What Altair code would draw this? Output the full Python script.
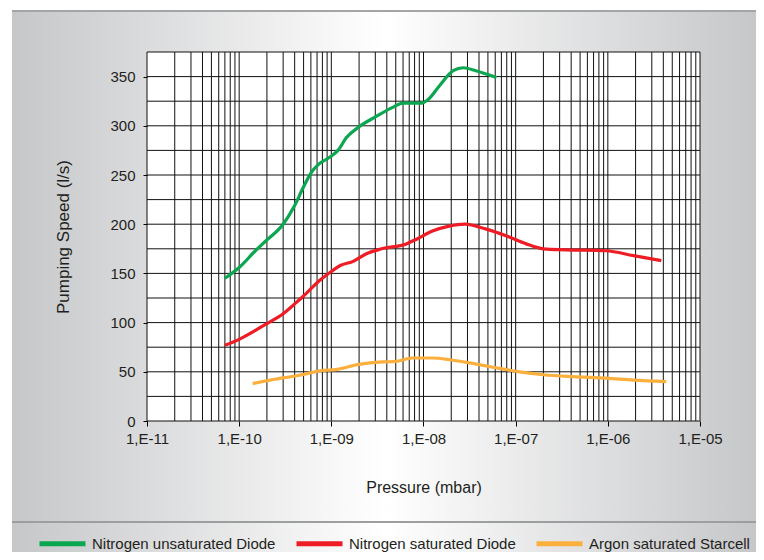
import altair as alt
import pandas as pd

# ---------------- data ----------------
series_names = ["Nitrogen unsaturated Diode", "Nitrogen saturated Diode", "Argon saturated Starcell"]
line_colors = ["#0aa650", "#ee1c25", "#fbb03e"]

green_p = [7e-11, 1e-10, 1.5e-10, 2e-10, 3e-10, 4e-10, 5e-10, 6e-10, 7.3e-10, 9.6e-10,
           1.18e-9, 1.46e-9, 2e-9, 3e-9, 4.7e-9, 6e-9, 9.5e-9, 1.1e-8, 1.5e-8, 2.1e-8,
           2.7e-8, 3.7e-8, 6.2e-8]
green_v = [145, 156, 173, 184, 200, 219, 238, 252, 261, 268,
           275, 288, 299, 309, 319, 323, 323, 326, 341, 356,
           359, 356, 349]

red_p = [7e-11, 1e-10, 1.5e-10, 2e-10, 3e-10, 4e-10, 5e-10, 7.5e-10, 1e-9, 1.25e-9,
         1.7e-9, 2.4e-9, 3.5e-9, 6.5e-9, 8.5e-9, 1.25e-8, 1.9e-8, 2.8e-8, 4.8e-8, 8e-8,
         1.3e-7, 2e-7, 3.5e-7, 9.6e-7, 1.9e-6, 3.8e-6]
red_v = [77, 83, 92, 99, 109, 119, 127, 143, 152, 158,
         162, 170, 175, 180, 185, 193, 198, 200, 195, 188,
         180, 175, 174, 173, 168, 163]

orange_p = [1.4e-10, 2.3e-10, 4.5e-10, 7.5e-10, 1.15e-9, 2e-9, 3.6e-9, 5e-9, 7.5e-9, 1.25e-8,
            2e-8, 3.4e-8, 6.7e-8, 1.1e-7, 2e-7, 4.2e-7, 9.6e-7, 1.9e-6, 4.3e-6]
orange_v = [38, 42, 46.5, 51, 52.5, 57.5, 60, 60.5, 64, 64,
            62, 58.5, 53.5, 50, 47, 45, 43.5, 41.5, 40]

decades = [1e-11, 1e-10, 1e-9, 1e-8, 1e-7, 1e-6, 1e-5]
minor_mult = [1, 2, 3, 4, 5, 6, 7, 8, 9]
grid_y = [0, 25, 50, 75, 100, 125, 150, 175, 200, 225, 250, 275, 300, 325, 350, 375]
y_ticks = [0, 50, 100, 150, 200, 250, 300, 350]

grid_x = [d * m for d in decades[:-1] for m in minor_mult] + [decades[-1]]

rows = []
for name, ps, vs in zip(series_names, [green_p, red_p, orange_p], [green_v, red_v, orange_v]):
    for p, v in zip(ps, vs):
        rows.append({"series": name, "p": p, "v": v})
df = pd.DataFrame(rows)

# ---------------- layout ----------------
W, H = 553, 369
PAD = {"left": 139, "top": 44, "right": 56, "bottom": 131}
FONT = "Liberation Sans"
TXT = "#231f20"

xscale = alt.Scale(type="log", domain=[1e-11, 1e-5], nice=False)
yscale = alt.Scale(domain=[0, 375], nice=False, zero=False)

label_expr = ("'1,E-' + (round(-log(datum.value)/LN10) < 10 ? '0' : '') + "
              "round(-log(datum.value)/LN10)")

x_axis = alt.Axis(values=decades, grid=False, domain=False, ticks=True, tickSize=5,
                  tickColor="black", labelExpr=label_expr, labelFont=FONT, labelFontSize=15,
                  labelColor=TXT, labelPadding=5, labelOverlap=False, labelFlush=False,
                  title="Pressure (mbar)", titleFont=FONT, titleFontSize=16,
                  titleFontWeight="normal", titleColor=TXT, titleX=W / 2, titleY=66,
                  titleAlign="center", titleBaseline="middle", zindex=1)
y_axis = alt.Axis(values=y_ticks, grid=False, domain=False, ticks=True, tickSize=4,
                  tickColor="black", labelFont=FONT, labelFontSize=15, labelColor=TXT,
                  labelPadding=8, title="Pumping Speed (l/s)", titleFont=FONT,
                  titleFontSize=17, titleFontWeight="normal", titleColor=TXT,
                  titleX=-84, titleY=H / 2, titleAngle=270, titleAlign="center",
                  titleBaseline="middle", zindex=1)

one = pd.DataFrame({"a": [0]})

grad = alt.LinearGradient(
    gradient="linear", x1=0, x2=1, y1=0, y2=0,
    stops=[alt.GradientStop(color="#c6c7c9", offset=0),
           alt.GradientStop(color="#ffffff", offset=0.5),
           alt.GradientStop(color="#c6c7c9", offset=1)])

bg = alt.Chart(one).mark_rect(color=grad).encode(
    x=alt.value(-135), x2=alt.value(W + PAD["right"]),
    y=alt.value(-42), y2=alt.value(H + PAD["bottom"]))

top_line = alt.Chart(one).mark_rule(color="#a4a5a7", strokeWidth=2).encode(
    x=alt.value(-135), x2=alt.value(W + PAD["right"]), y=alt.value(-41))
sep_line = alt.Chart(one).mark_rule(color="#9d9ea0", strokeWidth=2).encode(
    x=alt.value(-135), x2=alt.value(W + PAD["right"]), y=alt.value(470))

plot_bg = alt.Chart(one).mark_rect(color="white").encode(
    x=alt.value(0), x2=alt.value(W), y=alt.value(0), y2=alt.value(H))

vgrid = alt.Chart(pd.DataFrame({"gx": grid_x})).mark_rule(color="#111111", strokeWidth=1).encode(
    x=alt.X("gx:Q", scale=xscale, axis=x_axis))
hgrid = alt.Chart(pd.DataFrame({"gy": grid_y})).mark_rule(color="#111111", strokeWidth=1).encode(
    y=alt.Y("gy:Q", scale=yscale, axis=y_axis))

lines = alt.Chart(df).mark_line(strokeWidth=3.2, interpolate="monotone").encode(
    x=alt.X("p:Q", scale=xscale, axis=x_axis),
    y=alt.Y("v:Q", scale=yscale, axis=y_axis),
    color=alt.Color("series:N", sort=series_names,
                    scale=alt.Scale(domain=series_names, range=line_colors),
                    legend=alt.Legend(title=None, orient="none", legendX=-110, legendY=466,
                                      direction="horizontal", symbolType="stroke",
                                      symbolSize=46 * 46, symbolStrokeWidth=5,
                                      labelFont=FONT, labelFontSize=15, labelColor=TXT,
                                      labelOffset=4, columnPadding=10, padding=0,
                                      labelLimit=0, zindex=1)),
)

chart = alt.layer(bg, top_line, sep_line, plot_bg, vgrid, hgrid, lines).properties(
    width=W, height=H, padding=PAD, background="white",
    autosize=alt.AutoSizeParams(type="none"),
).configure_view(strokeWidth=0)

chart.save("out.html", embed_options={"renderer": "svg", "actions": False})
